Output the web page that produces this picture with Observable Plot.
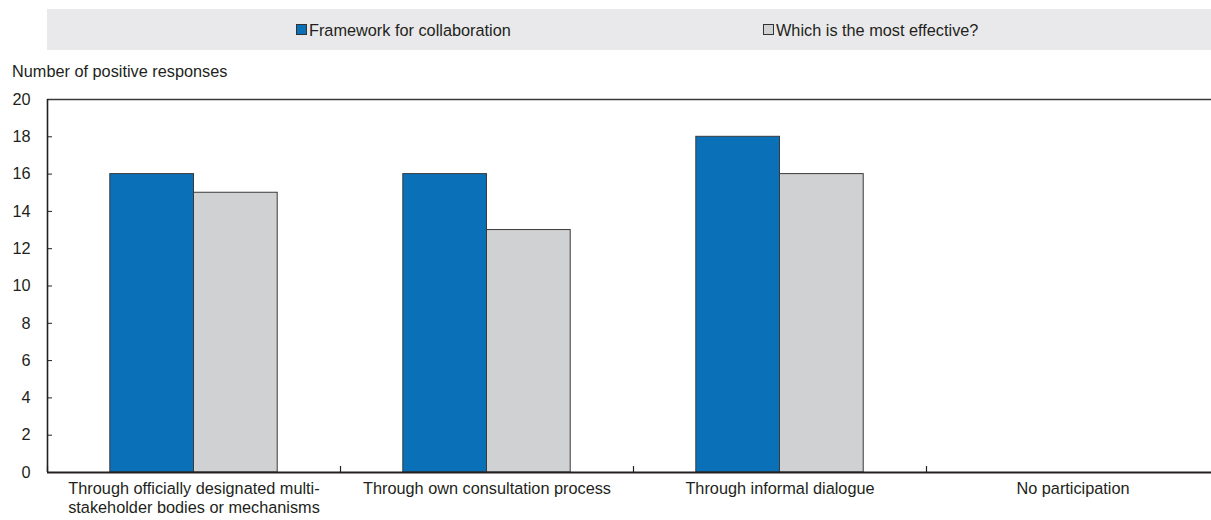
<!DOCTYPE html>
<html>
<head>
<meta charset="utf-8">
<script src="https://cdn.jsdelivr.net/npm/d3@7"></script>
<script src="https://cdn.jsdelivr.net/npm/@observablehq/plot@0.6"></script>
<style>
  html, body { margin: 0; padding: 0; background: #fff; overflow: hidden; width: 1211px; height: 520px; }
  body { position: relative; font-family: "Liberation Sans", Arial, Helvetica, sans-serif; color: #231f20; }
  #legend { position: absolute; top: 9px; left: 47px; width: 1164px; height: 41px; background: #e9e9eb; font-size: 16.3px; }
  .item { position: absolute; top: 12px; white-space: nowrap; line-height: 1.117; }
  .sw { position: absolute; top: 3.3px; left: -13px; width: 8.5px; height: 8.5px; border: 1px solid #333; }
  #ytitle { position: absolute; top: 62px; left: 12px; font-size: 16.3px; line-height: 1.117; white-space: nowrap; }
  #chart { position: absolute; top: 85px; left: 0; width: 1219px; }
  #chart svg { max-width: none !important; }
</style>
</head>
<body>
<div id="legend"></div>
<div id="ytitle">Number of positive responses</div>
<div id="chart"></div>
<script>
// ---- data ----
const categories = [
  "Through officially designated multi-stakeholder bodies or mechanisms",
  "Through own consultation process",
  "Through informal dialogue",
  "No participation"
];
const series = ["Framework for collaboration", "Which is the most effective?"];
const frameworkValues = [16, 16, 18, 0];
const effectiveValues = [15, 13, 16, 0];
const yTicks = [0, 2, 4, 6, 8, 10, 12, 14, 16, 18, 20];
const colors = ["#0a70b8", "#d0d1d3"];

// ---- table ----
const rows = [];
categories.forEach((c, i) => {
  rows.push({category: c, series: series[0], value: frameworkValues[i]});
  rows.push({category: c, series: series[1], value: effectiveValues[i]});
});

// ---- legend ----
const legend = document.getElementById("legend");
const legendX = [262, 729];
series.forEach((s, i) => {
  const it = document.createElement("div");
  it.className = "item";
  it.style.left = legendX[i] + "px";
  const sw = document.createElement("span");
  sw.className = "sw";
  sw.style.background = colors[i];
  it.appendChild(sw);
  it.appendChild(document.createTextNode(s));
  legend.appendChild(it);
});

// ---- chart ----
const width = 1219, height = 435;
const marginLeft = 47, marginRight = 0, marginTop = 14, marginBottom = 48;
const step = (width - marginLeft - marginRight) / categories.length;
const half = step / 2;
const barW = 83.7;
const plotH = height - marginTop - marginBottom;

const labelOf = (d) => d.replace("multi-stakeholder", "multi-\nstakeholder");

const chart = Plot.plot({
  width, height, marginLeft, marginRight, marginTop, marginBottom,
  style: {fontFamily: "Liberation Sans, Arial, Helvetica, sans-serif", fontSize: "16.3px", color: "#231f20", background: "transparent", maxWidth: "none"},
  x: {domain: categories, padding: 0, axis: null},
  y: {domain: [0, 20], axis: null},
  color: {domain: series, range: colors},
  marks: [
    Plot.barY(rows.filter(d => d.series === series[0]), {
      x: "category", y: "value", fill: "series",
      stroke: "#3a3a3a", strokeWidth: 1,
      insetLeft: half - barW, insetRight: half
    }),
    Plot.barY(rows.filter(d => d.series === series[1]), {
      x: "category", y: "value", fill: "series",
      stroke: "#3a3a3a", strokeWidth: 1,
      insetLeft: half, insetRight: half - barW
    }),
    // y ticks (inward)
    Plot.tickY(yTicks, {y: d => d, x: () => categories[0], insetRight: step - 5, stroke: "#231f20", strokeWidth: 1}),
    // top line
    Plot.ruleY([20], {stroke: "#3a3a3a", strokeWidth: 1.4}),
    // category boundary ticks
    Plot.ruleX(categories, {x: d => d, dx: -half, y1: 20, y2: 0, insetTop: plotH - 6, stroke: "#231f20", strokeWidth: 1.2}),
    // y axis line
    Plot.ruleX([categories[0]], {x: d => d, dx: -half, y1: 20, y2: 0, stroke: "#231f20", strokeWidth: 1.6}),
    // baseline
    Plot.ruleY([0], {stroke: "#231f20", strokeWidth: 2.2}),
    Plot.axisY(yTicks, {tickSize: 0, tickPadding: 17, label: null, fontSize: 16.3}),
    Plot.axisX({tickSize: 0, tickPadding: 7.5, label: null, tickFormat: labelOf, fontSize: 16.3, lineHeight: 1.2})
  ]
});
document.getElementById("chart").appendChild(chart);
</script>
</body>
</html>
